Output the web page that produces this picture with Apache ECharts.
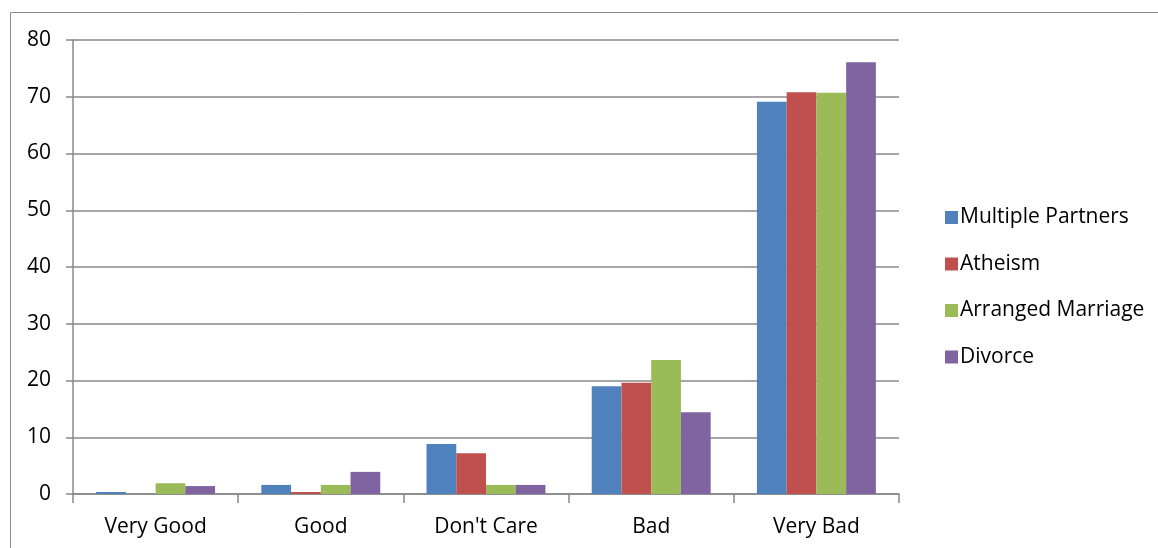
<!DOCTYPE html>
<html>
<head>
<meta charset="utf-8">
<script src="https://cdn.jsdelivr.net/npm/echarts@6/dist/echarts.min.js"></script>
<style>
  html, body { margin: 0; padding: 0; background: #fff; }
  #chart { width: 1158px; height: 548px; }
</style>
</head>
<body>
<div id="chart"></div>
<script>
// Attitude categories along the horizontal axis
const categories = ['Very Good', 'Good', "Don't Care", 'Bad', 'Very Bad'];

// Percentages per topic
const multiplePartners = [0.35, 1.6, 8.8, 19.0, 69.1];
const atheism          = [0,    0.35, 7.2, 19.6, 70.8];
const arrangedMarriage = [1.9,  1.6, 1.6, 23.6, 70.7];
const divorce          = [1.4,  3.9, 1.6, 14.4, 76.1];

const seriesNames = ['Multiple Partners', 'Atheism', 'Arranged Marriage', 'Divorce'];
const seriesColors = ['#4F81BD', '#C0504D', '#9BBB59', '#8064A2'];
const seriesData = [multiplePartners, atheism, arrangedMarriage, divorce];

const font = 'Open Sans';

const chart = echarts.init(document.getElementById('chart'));
chart.setOption({
  animation: false,
  backgroundColor: '#fff',
  graphic: [{
    type: 'rect',
    shape: { x: 10.5, y: 12.5, width: 1300, height: 700 },
    style: { fill: 'none', stroke: '#8c8c8c', lineWidth: 1 },
    silent: true,
    z: -1
  }],
  grid: { left: 73, top: 40, width: 826, height: 454, containLabel: false },
  legend: {
    orient: 'vertical',
    left: 940,
    top: 202,
    itemWidth: 13,
    itemHeight: 13,
    itemGap: 25.5,
    icon: 'rect',
    textStyle: { fontFamily: font, fontSize: 21, color: '#000', padding: [0, 0, 0, -3] },
    data: seriesNames
  },
  xAxis: {
    type: 'category',
    data: categories,
    axisLine: { lineStyle: { color: '#888', width: 1.5 } },
    axisTick: { show: true, length: 9, lineStyle: { color: '#888', width: 1.5 } },
    axisLabel: { fontFamily: font, fontSize: 21, color: '#000', margin: 23 }
  },
  yAxis: {
    type: 'value',
    min: 0,
    max: 80,
    interval: 10,
    axisLine: { show: true, lineStyle: { color: '#888', width: 1.5 } },
    axisTick: { show: true, length: 7, lineStyle: { color: '#888', width: 1.5 } },
    axisLabel: { fontFamily: font, fontSize: 21, color: '#000', margin: 22 },
    splitLine: { lineStyle: { color: '#888', width: 1.5 } }
  },
  series: seriesNames.map((name, i) => ({
    name: name,
    type: 'bar',
    data: seriesData[i],
    barGap: '0%',
    barCategoryGap: '28%',
    itemStyle: { color: seriesColors[i] }
  }))
});
</script>
</body>
</html>
